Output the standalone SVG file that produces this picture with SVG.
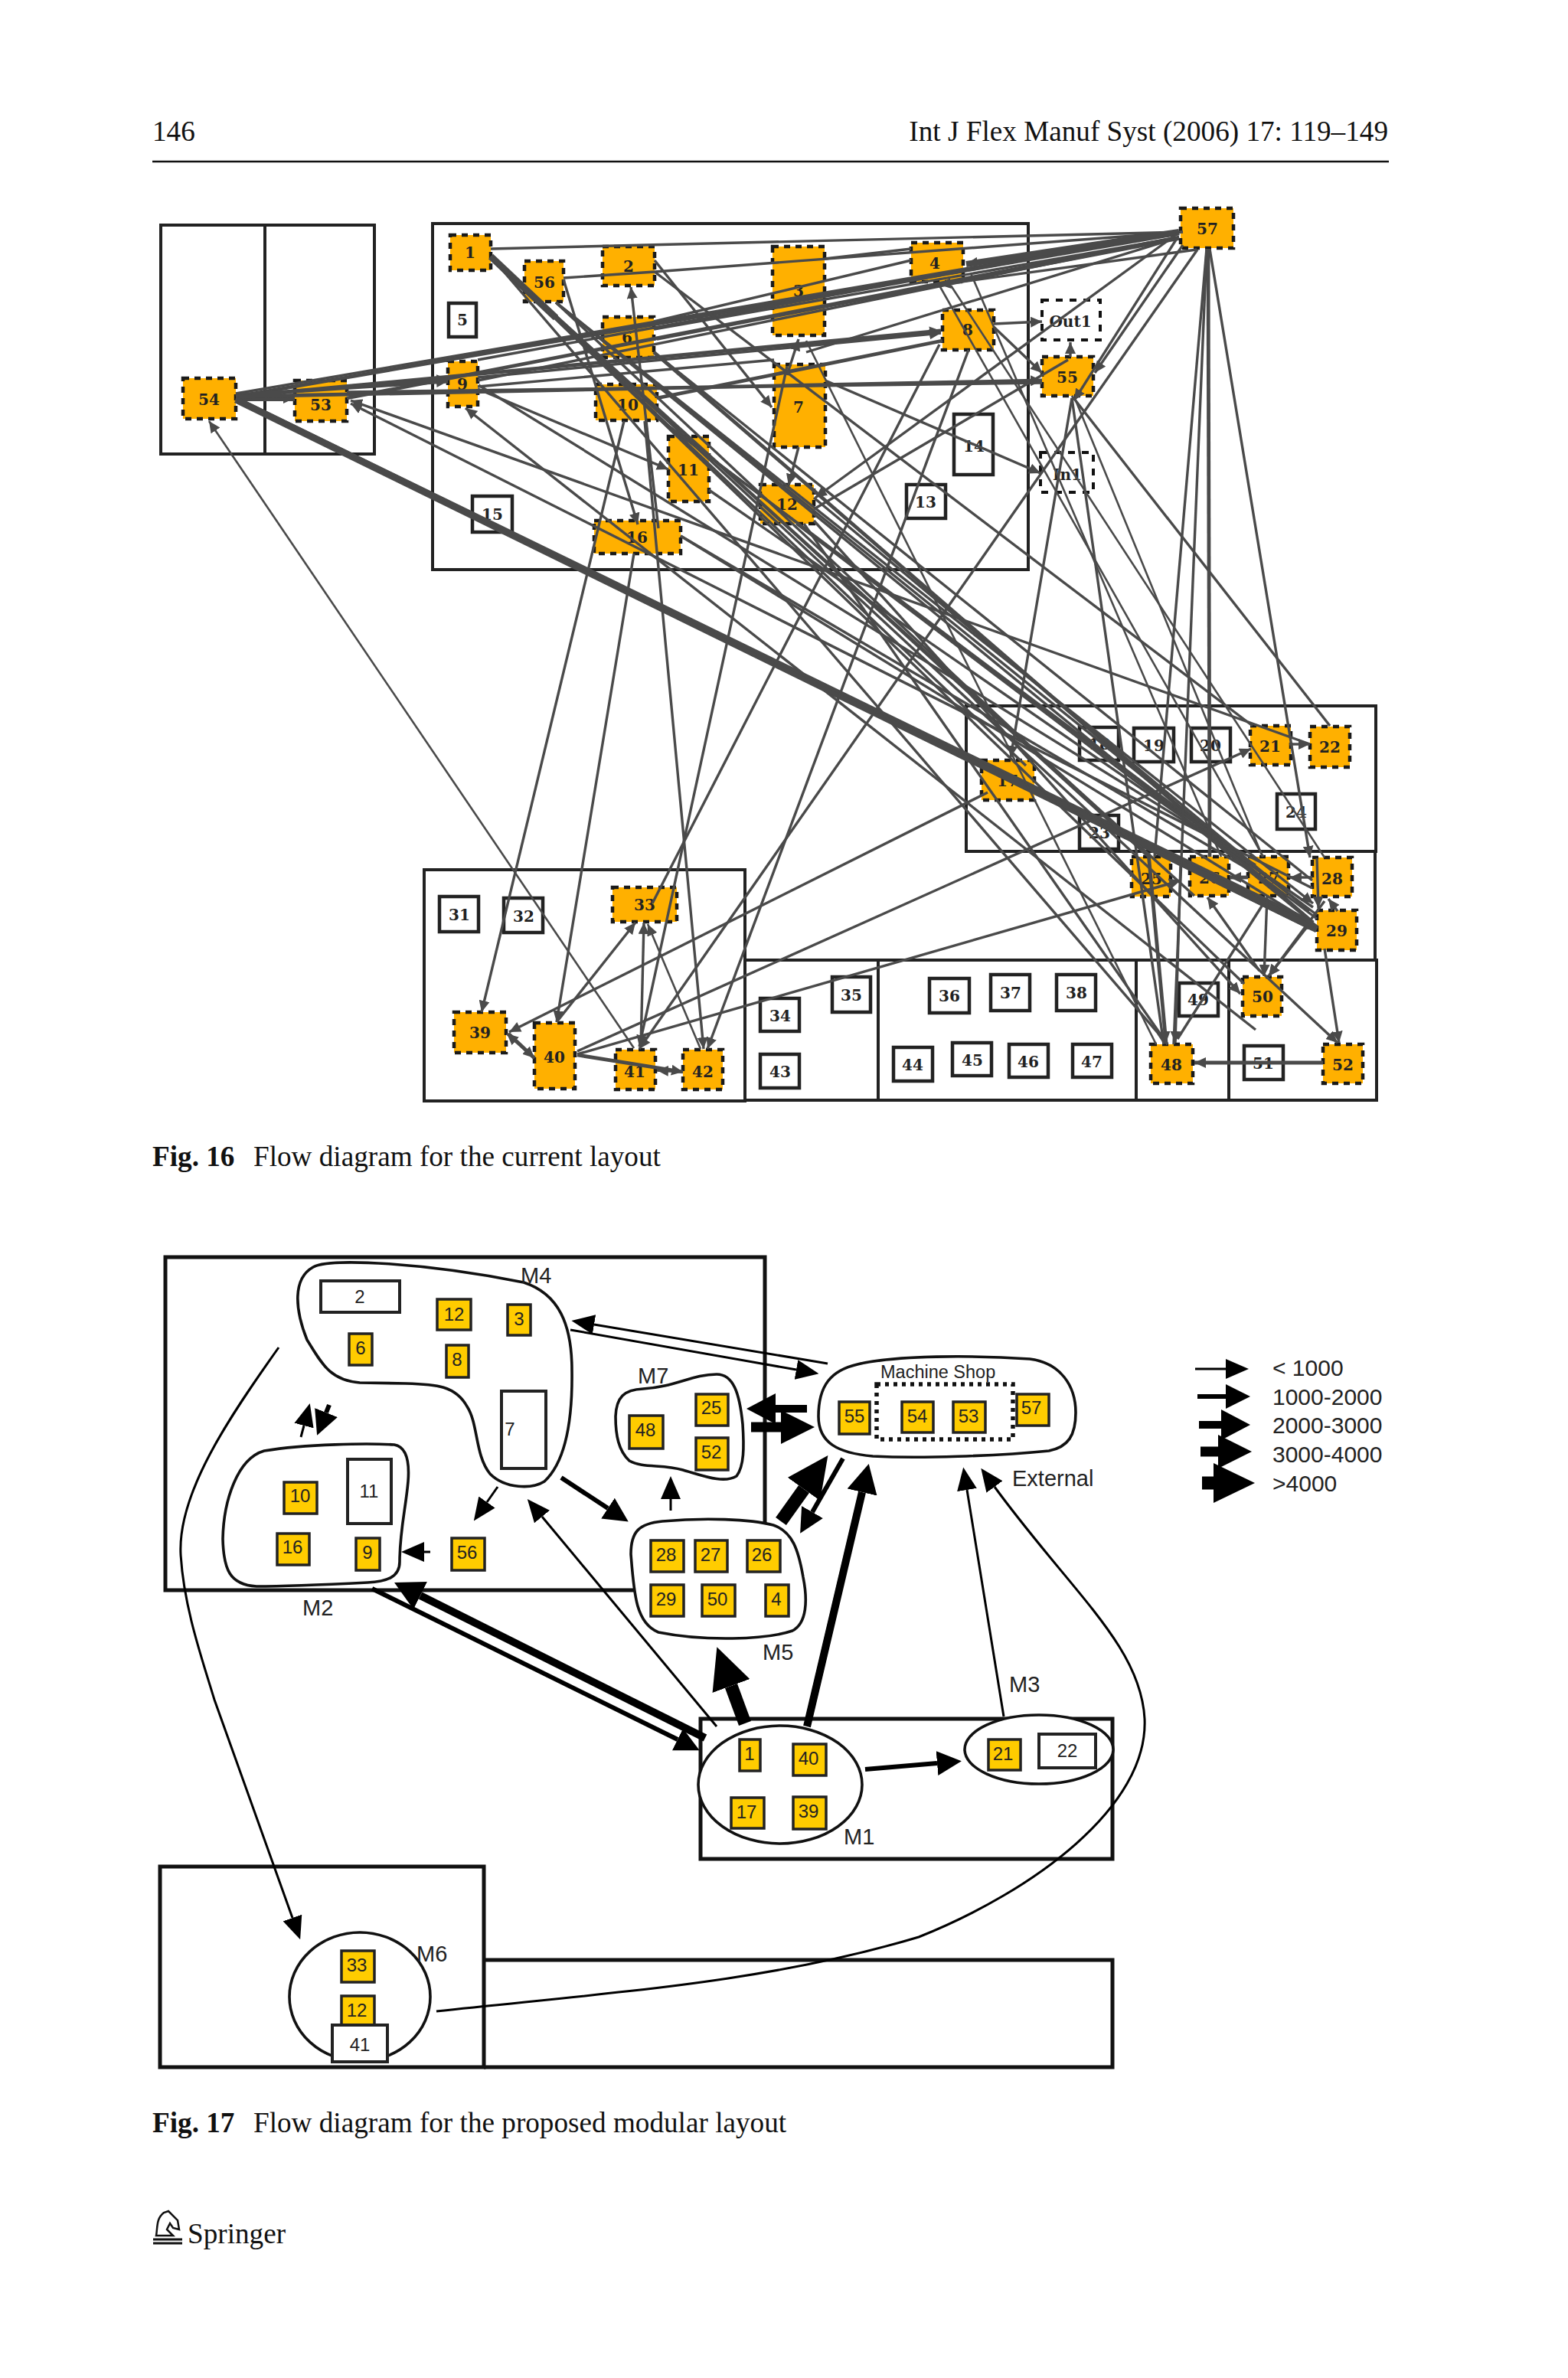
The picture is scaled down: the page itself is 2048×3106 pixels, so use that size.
<svg xmlns="http://www.w3.org/2000/svg" width="2048" height="3106" viewBox="0 0 2048 3106">
<style>
.pg{font-family:"Liberation Serif","Times New Roman",serif;font-size:37.2px;fill:#111}
.b{font-weight:bold}
.box{fill:none;stroke:#222;stroke-width:4}
.o rect{fill:#FFB000;stroke:#1a1a1a;stroke-width:4.5;stroke-dasharray:8 7}
.w rect{fill:#fff;stroke:#222;stroke-width:4.5}
.d rect{fill:#fff;stroke:#111;stroke-width:4;stroke-dasharray:9 9}
.o text,.w text,.d text{font-family:"DejaVu Serif",serif;font-weight:bold;font-size:20px;fill:#222;text-anchor:middle;dominant-baseline:central}
#edges16 line{stroke:#4a4a4a;stroke-width:3.4}
#edges16 .t{stroke-width:2.6}
#edges16 .m{stroke-width:4.8}
#edges16 .k{stroke-width:8}
#edges16 .x{stroke-width:9}
#edges16 .a{marker-end:url(#h)}
.box2{fill:none;stroke:#111;stroke-width:5}
.blob{fill:none;stroke:#111;stroke-width:3.6}
.f{fill:#fff}
.y rect{fill:#FFCC00;stroke:#222;stroke-width:3.5}
.n rect{fill:#fff;stroke:#222;stroke-width:4}
.y text,.n text{font-family:"Liberation Sans",Arial,sans-serif;font-size:24px;fill:#222;text-anchor:middle;dominant-baseline:central}
.lb{font-family:"Liberation Sans",Arial,sans-serif;font-size:29px;fill:#222}
#edges17 path{fill:none;stroke:#000}
.a1{stroke-width:3;marker-end:url(#a1)}
.a2{stroke-width:6;marker-end:url(#a2)}
.a3{stroke-width:10;marker-end:url(#a3)}
.a4{stroke-width:13;marker-end:url(#a4)}
.a5{stroke-width:17;marker-end:url(#a5)}
</style>
<defs>
<marker id="h" markerUnits="userSpaceOnUse" markerWidth="16" markerHeight="14" refX="15" refY="7" orient="auto"><path d="M0 0L15 7L0 14Z" fill="#4a4a4a"/></marker>
<marker id="a1" markerUnits="userSpaceOnUse" markerWidth="30" markerHeight="26" refX="0" refY="13" orient="auto"><path d="M0 0L30 13L0 26Z"/></marker>
<marker id="a2" markerUnits="userSpaceOnUse" markerWidth="32" markerHeight="32" refX="0" refY="16" orient="auto"><path d="M0 0L32 16L0 32Z"/></marker>
<marker id="a3" markerUnits="userSpaceOnUse" markerWidth="38" markerHeight="40" refX="0" refY="20" orient="auto"><path d="M0 0L38 20L0 40Z"/></marker>
<marker id="a4" markerUnits="userSpaceOnUse" markerWidth="44" markerHeight="44" refX="0" refY="22" orient="auto"><path d="M0 0L44 22L0 44Z"/></marker>
<marker id="a5" markerUnits="userSpaceOnUse" markerWidth="54" markerHeight="52" refX="0" refY="26" orient="auto"><path d="M0 0L54 26L0 52Z"/></marker>
</defs>
<rect width="2048" height="3106" fill="#fff"/>
<text class="pg" x="199" y="184">146</text>
<text class="pg" x="1813" y="184" text-anchor="end">Int J Flex Manuf Syst (2006) 17: 119–149</text>
<line x1="199" y1="211" x2="1814" y2="211" stroke="#111" stroke-width="2.4"/>

<g id="areas16">
<rect class="box" x="210" y="294" width="279" height="299"/><line class="box" x1="346" y1="294" x2="346" y2="593"/>
<rect class="box" x="565" y="292" width="778" height="452"/>
<rect class="box" x="1262" y="922" width="535" height="190"/>
<rect class="box" x="554" y="1136" width="419" height="302"/>
<path class="box" d="M973 1254H1798V1437H973M1147 1254V1437M1484 1254V1437M1605 1254V1437M1796 1112V1254"/>
</g>

<g id="n1" class="o"><rect x="588" y="307" width="53" height="46"/><text x="614" y="330">1</text></g>
<g id="n56" class="o"><rect x="685" y="341" width="51" height="53"/><text x="711" y="369">56</text></g>
<g id="n2" class="o"><rect x="787" y="322" width="68" height="51"/><text x="821" y="348">2</text></g>
<g id="n5" class="w"><rect x="586" y="396" width="36" height="44"/><text x="604" y="418">5</text></g>
<g id="n6" class="o"><rect x="787" y="414" width="67" height="53"/><text x="819" y="441">6</text></g>
<g id="n9" class="o"><rect x="585" y="472" width="39" height="59"/><text x="604" y="502">9</text></g>
<g id="n10" class="o"><rect x="778" y="502" width="80" height="47"/><text x="820" y="529">10</text></g>
<g id="n54" class="o"><rect x="239" y="494" width="69" height="53"/><text x="273" y="522">54</text></g>
<g id="n53" class="o"><rect x="385" y="497" width="68" height="53"/><text x="419" y="529">53</text></g>
<g id="n15" class="w"><rect x="617" y="648" width="52" height="47"/><text x="643" y="672">15</text></g>
<g id="n16" class="o"><rect x="776" y="680" width="113" height="43"/><text x="832" y="702">16</text></g>
<g id="n11" class="o"><rect x="873" y="570" width="53" height="85"/><text x="899" y="614">11</text></g>
<g id="n3" class="o"><rect x="1009" y="322" width="68" height="116"/><text x="1043" y="380">3</text></g>
<g id="n7" class="o"><rect x="1011" y="476" width="67" height="108"/><text x="1043" y="532">7</text></g>
<g id="n4" class="o"><rect x="1190" y="317" width="68" height="51"/><text x="1221" y="344">4</text></g>
<g id="n8" class="o"><rect x="1231" y="405" width="67" height="52"/><text x="1264" y="431">8</text></g>
<g id="nOut1" class="d"><rect x="1361" y="392" width="76" height="52"/><text x="1398" y="420">Out1</text></g>
<g id="n55" class="o"><rect x="1361" y="466" width="67" height="51"/><text x="1394" y="493">55</text></g>
<g id="n57" class="o"><rect x="1542" y="272" width="69" height="52"/><text x="1577" y="299">57</text></g>
<g id="n14" class="w"><rect x="1246" y="541" width="51" height="79"/><text x="1272" y="583">14</text></g>
<g id="nIn1" class="d"><rect x="1359" y="591" width="69" height="52"/><text x="1394" y="620">In1</text></g>
<g id="n13" class="w"><rect x="1184" y="633" width="51" height="44"/><text x="1209" y="656">13</text></g>
<g id="n12" class="o"><rect x="993" y="633" width="70" height="51"/><text x="1028" y="659">12</text></g>
<g id="n31" class="w"><rect x="574" y="1171" width="51" height="46"/><text x="600" y="1195">31</text></g>
<g id="n32" class="w"><rect x="658" y="1173" width="51" height="45"/><text x="684" y="1197">32</text></g>
<g id="n33" class="o"><rect x="800" y="1159" width="84" height="45"/><text x="842" y="1182">33</text></g>
<g id="n39" class="o"><rect x="593" y="1322" width="68" height="53"/><text x="627" y="1349">39</text></g>
<g id="n40" class="o"><rect x="698" y="1336" width="53" height="86"/><text x="724" y="1381">40</text></g>
<g id="n41" class="o"><rect x="804" y="1371" width="52" height="52"/><text x="829" y="1400">41</text></g>
<g id="n42" class="o"><rect x="892" y="1371" width="52" height="52"/><text x="918" y="1400">42</text></g>
<g id="n34" class="w"><rect x="993" y="1304" width="51" height="43"/><text x="1019" y="1327">34</text></g>
<g id="n43" class="w"><rect x="993" y="1377" width="51" height="44"/><text x="1019" y="1400">43</text></g>
<g id="n35" class="w"><rect x="1087" y="1276" width="50" height="46"/><text x="1112" y="1300">35</text></g>
<g id="n44" class="w"><rect x="1167" y="1368" width="51" height="44"/><text x="1192" y="1391">44</text></g>
<g id="n36" class="w"><rect x="1214" y="1278" width="52" height="45"/><text x="1240" y="1301">36</text></g>
<g id="n37" class="w"><rect x="1294" y="1273" width="51" height="47"/><text x="1320" y="1297">37</text></g>
<g id="n38" class="w"><rect x="1380" y="1273" width="51" height="47"/><text x="1406" y="1297">38</text></g>
<g id="n45" class="w"><rect x="1244" y="1362" width="51" height="43"/><text x="1270" y="1385">45</text></g>
<g id="n46" class="w"><rect x="1318" y="1364" width="51" height="43"/><text x="1343" y="1387">46</text></g>
<g id="n47" class="w"><rect x="1401" y="1364" width="51" height="43"/><text x="1426" y="1387">47</text></g>
<g id="n18" class="w"><rect x="1410" y="950" width="51" height="43"/><text x="1436" y="972">18</text></g>
<g id="n19" class="w"><rect x="1481" y="951" width="52" height="44"/><text x="1507" y="974">19</text></g>
<g id="n20" class="w"><rect x="1556" y="951" width="51" height="44"/><text x="1581" y="974">20</text></g>
<g id="n21" class="o"><rect x="1633" y="948" width="53" height="51"/><text x="1659" y="975">21</text></g>
<g id="n22" class="o"><rect x="1711" y="949" width="52" height="53"/><text x="1737" y="976">22</text></g>
<g id="n17" class="o"><rect x="1282" y="993" width="69" height="52"/><text x="1316" y="1020">17</text></g>
<g id="n24" class="w"><rect x="1668" y="1037" width="50" height="46"/><text x="1693" y="1061">24</text></g>
<g id="n23" class="w"><rect x="1410" y="1065" width="51" height="44"/><text x="1436" y="1088">23</text></g>
<g id="n25" class="o"><rect x="1478" y="1119" width="51" height="52"/><text x="1504" y="1148">25</text></g>
<g id="n26" class="o"><rect x="1554" y="1119" width="51" height="51"/><text x="1580" y="1147">26</text></g>
<g id="n27" class="o"><rect x="1630" y="1119" width="53" height="51"/><text x="1657" y="1147">27</text></g>
<g id="n28" class="o"><rect x="1714" y="1120" width="52" height="51"/><text x="1740" y="1148">28</text></g>
<g id="n29" class="o"><rect x="1720" y="1189" width="52" height="52"/><text x="1746" y="1216">29</text></g>
<g id="n49" class="w"><rect x="1540" y="1284" width="51" height="43"/><text x="1565" y="1306">49</text></g>
<g id="n50" class="o"><rect x="1623" y="1276" width="51" height="51"/><text x="1649" y="1302">50</text></g>
<g id="n48" class="o"><rect x="1503" y="1364" width="55" height="51"/><text x="1530" y="1391">48</text></g>
<g id="n51" class="w"><rect x="1625" y="1366" width="51" height="44"/><text x="1650" y="1389">51</text></g>
<g id="n52" class="o"><rect x="1728" y="1364" width="52" height="51"/><text x="1754" y="1391">52</text></g>

<g id="edges16">
<line x1="641" y1="325" x2="1545" y2="303"/>
<line x1="736" y1="363" x2="855" y2="355"/>
<line x1="855" y1="355" x2="1545" y2="303"/>
<line class="m" x1="308" y1="518" x2="1540" y2="305"/>
<line x1="308" y1="514" x2="1540" y2="303"/>
<line class="m" x1="453" y1="520" x2="1540" y2="310"/>
<line x1="854" y1="430" x2="1540" y2="310"/>
<line x1="624" y1="497" x2="1540" y2="310"/>
<line x1="624" y1="470" x2="1540" y2="303"/>
<line x1="858" y1="443" x2="1540" y2="312"/>
<line x1="854" y1="420" x2="1190" y2="340"/>
<line class="k a" x1="1540" y1="303" x2="1262" y2="345"/>
<line x1="1053" y1="460" x2="1540" y2="310"/>
<line x1="1077" y1="338" x2="1190" y2="325"/>
<line class="m a" x1="308" y1="518" x2="1229" y2="432"/>
<line class="m a" x1="308" y1="516" x2="585" y2="498"/>
<line class="m a" x1="453" y1="505" x2="585" y2="495"/>
<line class="k a" x1="308" y1="520" x2="385" y2="520"/>
<line class="m a" x1="308" y1="518" x2="1361" y2="497"/>
<line x1="453" y1="512" x2="1361" y2="500"/>
<line class="a" x1="624" y1="493" x2="1229" y2="435"/>
<line x1="624" y1="505" x2="1011" y2="470"/>
<line class="m" x1="858" y1="520" x2="1231" y2="445"/>
<line class="a" x1="624" y1="508" x2="873" y2="613"/>
<line x1="625" y1="503" x2="1640" y2="1130"/>
<line class="a" x1="1714" y1="1160" x2="458" y2="527"/>
<line class="a" x1="1711" y1="972" x2="458" y2="523"/>
<line class="x a" x1="308" y1="522" x2="1720" y2="1214"/>
<line class="m" x1="308" y1="520" x2="1715" y2="1205"/>
<line class="k" x1="1300" y1="1008" x2="1715" y2="1212"/>
<line class="x" x1="641" y1="335" x2="726" y2="415"/>
<line x1="641" y1="335" x2="1500" y2="1119"/>
<line x1="641" y1="335" x2="1560" y2="1170"/>
<line x1="641" y1="335" x2="1525" y2="1364"/>
<line x1="641" y1="335" x2="1625" y2="1285"/>
<line class="a" x1="641" y1="335" x2="1747" y2="1362"/>
<line x1="641" y1="335" x2="1340" y2="1000"/>
<line x1="726" y1="395" x2="1500" y2="1119"/>
<line class="a" x1="726" y1="395" x2="1715" y2="1180"/>
<line x1="726" y1="395" x2="1630" y2="1125"/>
<line x1="726" y1="395" x2="1720" y2="1210"/>
<line x1="855" y1="355" x2="1636" y2="948"/>
<line x1="854" y1="460" x2="1714" y2="1150"/>
<line class="m" x1="854" y1="460" x2="1715" y2="1205"/>
<line x1="858" y1="545" x2="1720" y2="1195"/>
<line x1="858" y1="545" x2="1630" y2="1125"/>
<line x1="926" y1="640" x2="1715" y2="1185"/>
<line class="a" x1="1063" y1="680" x2="1620" y2="1298"/>
<line x1="1040" y1="684" x2="1720" y2="1200"/>
<line x1="1063" y1="650" x2="1710" y2="1190"/>
<line x1="1050" y1="684" x2="1525" y2="1364"/>
<line x1="889" y1="700" x2="1720" y2="1210"/>
<line x1="889" y1="700" x2="1630" y2="1135"/>
<line class="a" x1="1640" y1="1345" x2="608" y2="533"/>
<line class="a" x1="736" y1="365" x2="833" y2="685"/>
<line class="a" x1="860" y1="690" x2="824" y2="375"/>
<line class="a" x1="855" y1="340" x2="1008" y2="532"/>
<line class="t a" x1="828" y1="1369" x2="273" y2="550"/>
<line class="a" x1="815" y1="550" x2="629" y2="1322"/>
<line class="a" x1="828" y1="723" x2="727" y2="1335"/>
<line class="a" x1="842" y1="550" x2="919" y2="1370"/>
<line class="a" x1="1265" y1="457" x2="924" y2="1370"/>
<line class="a" x1="1564" y1="326" x2="835" y2="1370"/>
<line class="a" x1="1028" y1="478" x2="835" y2="1367"/>
<line x1="1227" y1="450" x2="852" y2="1180"/>
<line class="a" x1="727" y1="1335" x2="830" y2="1205"/>
<line class="a" x1="837" y1="1367" x2="841" y2="1205"/>
<line class="t a" x1="915" y1="1370" x2="846" y2="1207"/>
<line class="a" x1="1290" y1="1035" x2="665" y2="1348"/>
<line class="a" x1="754" y1="1373" x2="1634" y2="978"/>
<line class="a" x1="754" y1="1377" x2="1542" y2="1150"/>
<line class="m a" x1="754" y1="1378" x2="892" y2="1400"/>
<line class="a" x1="892" y1="1400" x2="858" y2="1398"/>
<line class="m a" x1="664" y1="1350" x2="698" y2="1382"/>
<line class="a" x1="698" y1="1382" x2="662" y2="1350"/>
<line class="a" x1="1078" y1="497" x2="1359" y2="618"/>
<line class="a" x1="1298" y1="427" x2="1361" y2="487"/>
<line class="a" x1="1298" y1="423" x2="1361" y2="420"/>
<line class="a" x1="1398" y1="466" x2="1398" y2="447"/>
<line class="a" x1="1043" y1="584" x2="1030" y2="634"/>
<line class="a" x1="1538" y1="305" x2="1065" y2="650"/>
<line x1="1395" y1="470" x2="1063" y2="665"/>
<line class="a" x1="1545" y1="320" x2="1430" y2="487"/>
<line class="a" x1="1538" y1="310" x2="1403" y2="523"/>
<line class="t" x1="1053" y1="445" x2="1510" y2="1364"/>
<line class="a" x1="1028" y1="490" x2="1043" y2="443"/>
<line class="a" x1="1563" y1="326" x2="1227" y2="372"/>
<line class="t" x1="1268" y1="357" x2="1595" y2="1119"/>
<line class="t" x1="1227" y1="373" x2="1650" y2="1119"/>
<line class="t" x1="1242" y1="373" x2="1730" y2="1120"/>
<line x1="1400" y1="517" x2="1737" y2="948"/>
<line class="a" x1="1400" y1="520" x2="1520" y2="1364"/>
<line class="t" x1="1405" y1="523" x2="1649" y2="1119"/>
<line class="a" x1="1400" y1="520" x2="1320" y2="989"/>
<line x1="1576" y1="325" x2="1508" y2="1119"/>
<line x1="1576" y1="325" x2="1533" y2="1364"/>
<line class="m" x1="1578" y1="325" x2="1580" y2="1119"/>
<line class="a" x1="1580" y1="325" x2="1711" y2="1120"/>
<line class="a" x1="1684" y1="972" x2="1711" y2="972"/>
<line x1="1649" y1="1182" x2="1538" y2="1357"/>
<line class="m a" x1="1500" y1="1114" x2="1523" y2="1362"/>
<line class="a" x1="1542" y1="1128" x2="1535" y2="1362"/>
<line class="a" x1="1645" y1="1268" x2="1577" y2="1172"/>
<line class="a" x1="1655" y1="1171" x2="1651" y2="1275"/>
<line class="a" x1="1710" y1="1207" x2="1657" y2="1275"/>
<line class="a" x1="1730" y1="1177" x2="1657" y2="1275"/>
<line class="a" x1="1730" y1="1239" x2="1749" y2="1362"/>
<line class="m a" x1="1630" y1="1146" x2="1606" y2="1146"/>
<line class="a" x1="1714" y1="1146" x2="1685" y2="1146"/>
<line class="a" x1="1747" y1="1190" x2="1735" y2="1174"/>
<line class="a" x1="1720" y1="1121" x2="1722" y2="1186"/>
<line class="m a" x1="1728" y1="1388" x2="1560" y2="1388"/>
</g>

<text class="pg" x="199" y="1523"><tspan class="b">Fig. 16</tspan></text>
<text class="pg" x="331" y="1523">Flow diagram for the current layout</text>

<g id="areas17">
<rect class="box2" x="216" y="1642" width="783" height="435"/>
<rect class="box2" x="915" y="2245" width="538" height="183"/>
<rect class="box2" x="209" y="2438" width="423" height="262"/>
<path class="box2" d="M632 2560H1453V2700H632"/>
</g>
<g id="M4"><path class="blob" d="M409 1655C430 1642 560 1650 684 1675C730 1690 747 1730 747 1790C748 1860 738 1910 711 1935C695 1945 660 1945 640 1925C620 1900 625 1860 610 1837C595 1810 570 1808 530 1807L470 1806C430 1803 420 1780 401 1750C385 1710 382 1670 409 1655Z"/><text class="lb" x="680" y="1676">M4</text>
<g class="n"><rect x="419" y="1673" width="103" height="41"/><text x="470" y="1693">2</text></g>
<g class="y"><rect x="571" y="1697" width="44" height="40"/><text x="593" y="1716">12</text></g>
<g class="y"><rect x="663" y="1704" width="30" height="40"/><text x="678" y="1722">3</text></g>
<g class="y"><rect x="456" y="1742" width="30" height="41"/><text x="471" y="1760">6</text></g>
<g class="y"><rect x="583" y="1757" width="29" height="42"/><text x="597" y="1775">8</text></g>
<g class="n"><rect x="655" y="1817" width="58" height="101"/><text x="666" y="1866">7</text></g></g>
<g id="M2"><path class="blob" d="M345 1895C400 1886 480 1885 515 1887C532 1890 535 1910 533 1935C530 1970 522 2000 522 2040C522 2060 505 2066 480 2067C420 2070 380 2072 335 2072C300 2070 292 2050 291 2010C292 1960 310 1905 345 1895Z"/><text class="lb" x="395" y="2110">M2</text>
<g class="y"><rect x="371" y="1936" width="43" height="41"/><text x="392" y="1953">10</text></g>
<g class="n"><rect x="454" y="1906" width="57" height="84"/><text x="482" y="1947">11</text></g>
<g class="y"><rect x="362" y="2003" width="42" height="41"/><text x="382" y="2020">16</text></g>
<g class="y"><rect x="465" y="2009" width="31" height="42"/><text x="480" y="2027">9</text></g></g>
<g id="M2b" class="y"><rect x="590" y="2009" width="43" height="42"/><text x="610" y="2027">56</text></g>
<g id="M7"><path class="blob" d="M804 1850C805 1825 815 1815 840 1814C880 1812 905 1795 936 1795C958 1795 966 1820 970 1860C972 1890 972 1915 962 1928C945 1938 920 1928 892 1920C865 1912 840 1918 822 1908C808 1895 804 1875 804 1850Z"/><text class="lb" x="833" y="1807">M7</text>
<g class="y"><rect x="909" y="1821" width="42" height="41"/><text x="929" y="1838">25</text></g>
<g class="y"><rect x="909" y="1878" width="42" height="42"/><text x="929" y="1896">52</text></g>
<g class="y"><rect x="822" y="1849" width="44" height="43"/><text x="843" y="1867">48</text></g></g>
<g id="MS"><path class="blob f" d="M1069 1850C1069 1810 1085 1790 1120 1782C1170 1770 1270 1770 1345 1775C1385 1780 1405 1810 1405 1845C1405 1875 1395 1890 1370 1895C1300 1902 1200 1905 1140 1902C1095 1898 1069 1885 1069 1850Z"/>
<text class="lb" x="1150" y="1800" style="font-size:23.5px">Machine Shop</text>
<rect x="1145" y="1808" width="178" height="72" fill="none" stroke="#111" stroke-width="5.5" stroke-dasharray="5 6"/>
<g class="y"><rect x="1096" y="1831" width="40" height="42"/><text x="1116" y="1849">55</text></g>
<g class="y"><rect x="1178" y="1831" width="41" height="40"/><text x="1198" y="1849">54</text></g>
<g class="y"><rect x="1245" y="1831" width="42" height="40"/><text x="1265" y="1849">53</text></g>
<g class="y"><rect x="1328" y="1821" width="42" height="41"/><text x="1347" y="1838">57</text></g></g>
<text class="lb" x="1322" y="1941">External</text>
<g id="M5"><path class="blob f" d="M824 2030C824 2000 835 1990 865 1987C920 1982 980 1984 1010 1992C1035 2000 1043 2025 1049 2060C1055 2090 1054 2120 1035 2130C1000 2142 920 2144 860 2132C830 2120 828 2080 824 2030Z"/><text class="lb" x="996" y="2168">M5</text>
<g class="y"><rect x="850" y="2012" width="43" height="41"/><text x="870" y="2030">28</text></g>
<g class="y"><rect x="908" y="2012" width="42" height="41"/><text x="928" y="2030">27</text></g>
<g class="y"><rect x="976" y="2012" width="43" height="41"/><text x="995" y="2030">26</text></g>
<g class="y"><rect x="850" y="2070" width="43" height="41"/><text x="870" y="2088">29</text></g>
<g class="y"><rect x="917" y="2070" width="43" height="41"/><text x="937" y="2088">50</text></g>
<g class="y"><rect x="1000" y="2070" width="30" height="41"/><text x="1014" y="2088">4</text></g></g>
<text class="lb" x="1318" y="2210">M3</text>
<g id="M1"><ellipse class="blob f" cx="1019" cy="2331" rx="107" ry="77"/><text class="lb" x="1102" y="2409">M1</text>
<g class="y"><rect x="966" y="2272" width="27" height="41"/><text x="979" y="2290">1</text></g>
<g class="y"><rect x="1036" y="2278" width="43" height="41"/><text x="1056" y="2296">40</text></g>
<g class="y"><rect x="955" y="2348" width="43" height="40"/><text x="975" y="2366">17</text></g>
<g class="y"><rect x="1036" y="2347" width="43" height="42"/><text x="1056" y="2365">39</text></g></g>
<g id="M3"><ellipse class="blob f" cx="1357" cy="2285" rx="97" ry="45"/>
<g class="y"><rect x="1291" y="2272" width="42" height="40"/><text x="1310" y="2290">21</text></g>
<g class="n"><rect x="1357" y="2265" width="74" height="44"/><text x="1394" y="2286">22</text></g></g>
<g id="M6"><ellipse class="blob" cx="470" cy="2608" rx="92" ry="84"/><text class="lb" x="544" y="2562">M6</text>
<g class="y"><rect x="446" y="2548" width="43" height="41"/><text x="466" y="2566">33</text></g>
<g class="y"><rect x="446" y="2607" width="43" height="41"/><text x="466" y="2625">12</text></g>
<g class="n"><rect x="434" y="2645" width="72" height="48"/><text x="470" y="2670">41</text></g></g>

<g id="edges17">
<path class="a1" d="M1081 1781L776 1730"/>
<path class="a1" d="M745 1737L1040 1789"/>
<path class="a3" d="M1054 1840H1013"/>
<path class="a4" d="M981 1864H1020"/>
<path class="a5" d="M1020 1987L1050 1945"/>
<path class="a2" d="M1101 1905L1061 1975"/>
<path class="a3" d="M1054 2255L1126 1949"/>
<path class="a5" d="M973 2251L955 2202"/>
<path class="a1" d="M1311 2242L1263 1946"/>
<path class="a1" d="M570 2627C800 2602 1000 2590 1200 2530C1350 2470 1500 2360 1495 2245C1490 2150 1400 2080 1299 1942"/>
<path class="a2" d="M486 2075L885 2272"/>
<path class="a3" d="M921 2270L549 2084"/>
<path class="a1" d="M936 2255L708 1981"/>
<path class="a2" d="M733 1930L794 1970"/>
<path class="a1" d="M650 1942L636 1962"/>
<path class="a1" d="M562 2027H554"/>
<path class="a1" d="M876 1973V1958"/>
<path class="a1" d="M393 1877L397 1862"/>
<path class="a2" d="M430 1835L426 1845"/>
<path class="a2" d="M1130 2311L1224 2303"/>
<path class="a1" d="M364 1760C300 1850 232 1950 236 2030C240 2100 265 2170 280 2220L382 2505"/>
</g>
<g id="legend">
<path class="a1" d="M1561 1788H1601" fill="none" stroke="#000"/><text class="lb" x="1662" y="1797" style="font-size:30px">&lt; 1000</text>
<path class="a2" d="M1564 1824H1601" fill="none" stroke="#000"/><text class="lb" x="1662" y="1835" style="font-size:30px">1000-2000</text>
<path class="a3" d="M1566 1861H1595" fill="none" stroke="#000"/><text class="lb" x="1662" y="1872" style="font-size:30px">2000-3000</text>
<path class="a4" d="M1568 1896H1591" fill="none" stroke="#000"/><text class="lb" x="1662" y="1910" style="font-size:30px">3000-4000</text>
<path class="a5" d="M1570 1937H1585" fill="none" stroke="#000"/><text class="lb" x="1662" y="1948" style="font-size:30px">&gt;4000</text>
</g>
<text class="pg" x="199" y="2785"><tspan class="b">Fig. 17</tspan></text>
<text class="pg" x="331" y="2785">Flow diagram for the proposed modular layout</text>
<g id="logo" fill="none" stroke="#111" stroke-width="2.5"><path d="M204 2920C206 2908 204 2898 214 2890L220 2888L232 2900L234 2912L226 2910L222 2904L218 2912L226 2920Z"/><path d="M200 2925H238M200 2930H238" stroke-width="3"/></g>
<text class="pg" x="245" y="2930">Springer</text>
</svg>
